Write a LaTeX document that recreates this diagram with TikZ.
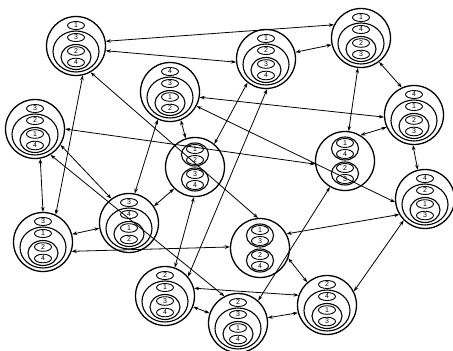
\documentclass[tikz,border=0pt]{standalone}
\usepackage{fontspec}
\newfontfamily\digitfont{Liberation Sans}
\usetikzlibrary{arrows.meta}
\tikzset{
  outer/.style={circle, draw, line width=1.3pt, minimum size=59pt, inner sep=0pt},
  inner/.style={line width=1.1pt},
  small/.style={line width=0.9pt},
  digit/.style={font=\digitfont\fontsize{7}{7}\selectfont, inner sep=0pt},
  dbl/.style={line width=0.8pt, {Stealth[length=5pt,width=3.6pt]}-{Stealth[length=5pt,width=3.6pt]}},
  pics/typeA/.style n args={4}{code={
    \draw[small] (0,-20.5) ellipse [x radius=8.5pt, y radius=4pt];
    \node[digit] at (0,-20.5) {#1};
    \draw[inner] (0,5.5) ellipse [x radius=23pt, y radius=20.5pt];
    \draw[small] (0,-8.5) ellipse [x radius=8.5pt, y radius=4pt];
    \node[digit] at (0,-8.5) {#2};
    \draw[inner] (0,11) ellipse [x radius=15pt, y radius=12.5pt];
    \draw[small] (0,5) ellipse [x radius=8.5pt, y radius=4.3pt];
    \node[digit] at (0,5) {#3};
    \draw[small] (0,16.5) ellipse [x radius=8.5pt, y radius=4.3pt];
    \node[digit] at (0,16.5) {#4};
  }},
  pics/typeB/.style n args={4}{code={
    \draw[inner] (0,-12.5) ellipse [x radius=13.5pt, y radius=11.5pt];
    \draw[inner] (0,12.5) ellipse [x radius=13.5pt, y radius=11.5pt];
    \draw[small] (0,-18) ellipse [x radius=8.5pt, y radius=4.5pt];
    \node[digit] at (0,-18) {#1};
    \draw[small] (0,-7) ellipse [x radius=8.5pt, y radius=4.5pt];
    \node[digit] at (0,-7) {#2};
    \draw[small] (0,7) ellipse [x radius=8.5pt, y radius=4.5pt];
    \node[digit] at (0,7) {#3};
    \draw[small] (0,18) ellipse [x radius=8.5pt, y radius=4.5pt];
    \node[digit] at (0,18) {#4};
  }}
}
\begin{document}
\begin{tikzpicture}[x=1pt,y=-1pt]
\useasboundingbox (0,0) rectangle (453,351);
% nodes
\node[outer] (N1) at (76,46) {};
\node[outer] (N2) at (266,59) {};
\node[outer] (N3) at (170,92) {};
\node[outer] (N4) at (361,38) {};
\node[outer] (N5) at (414,115) {};
\node[outer] (N6) at (35,129) {};
\node[outer] (N7) at (195,167) {};
\node[outer] (N8) at (345,161) {};
\node[outer] (N9) at (425,199) {};
\node[outer] (N10) at (43,242) {};
\node[outer] (N11) at (129,223) {};
\node[outer] (N12) at (260,248) {};
\node[outer] (N13) at (165,296) {};
\node[outer] (N14) at (238,323) {};
\node[outer] (N15) at (327,305) {};
% contents
\pic at (N1) {typeA={1}{3}{2}{4}};
\pic at (N2) {typeA={1}{2}{3}{4}};
\pic at (N3) {typeA={4}{3}{1}{2}};
\pic at (N4) {typeA={1}{4}{2}{3}};
\pic at (N5) {typeA={4}{1}{2}{3}};
\pic at (N6) {typeA={3}{2}{1}{4}};
\pic at (N7) {typeB={1}{2}{3}{4}};
\pic at (N8) {typeB={1}{4}{2}{3}};
\pic at (N9) {typeA={4}{2}{1}{3}};
\pic at (N10) {typeA={3}{1}{2}{4}};
\pic at (N11) {typeA={3}{4}{1}{2}};
\pic at (N12) {typeB={1}{3}{2}{4}};
\pic at (N13) {typeA={2}{1}{3}{4}};
\pic at (N14) {typeA={2}{3}{1}{4}};
\pic at (N15) {typeA={2}{4}{1}{3}};
% edges
\draw[dbl] (N1.9) -- (N4.154);
\draw[dbl] (N1.-9) -- (N2.186);
\draw[dbl] (N2.13) -- (N4.193);
\draw[dbl] (N4.-53) -- (N5.114);
\draw[dbl] (N4.-96) -- (N8.83);
\draw[dbl] (N3.-10) -- (N5.184);
\draw[dbl] (N3.-28) -- (N9.186);
\draw[dbl] (N5.204) -- (N8.59);
\draw[dbl] (N5.-92) -- (N9.104);
\draw[dbl] (N6.0) -- (N8.186);
\draw[dbl] (N6.-80) -- (N10.90);
\draw[dbl] (N6.-32) -- (N11.126);
\draw[dbl] (N6.-59) -- (N14.117);
\draw[dbl] (N1.-77) -- (N10.65);
\draw[dbl] (N1.-61) -- (N12.94);
\draw[dbl] (N3.-69) -- (N7.108);
\draw[dbl] (N3.-114) -- (N11.79);
\draw[dbl] (N2.-128) -- (N7.50);
\draw[dbl] (N2.-88) -- (N13.40);
\draw[dbl] (N7.-134) -- (N11.34);
\draw[dbl] (N7.-92) -- (N13.71);
\draw[dbl] (N10.15) -- (N11.190);
\draw[dbl] (N10.-18) -- (N12.178);
\draw[dbl] (N12.28) -- (N9.211);
\draw[dbl] (N8.-120) -- (N14.48);
\draw[dbl] (N12.-20) -- (N15.131);
\draw[dbl] (N15.27) -- (N9.-135);
\draw[dbl] (N13.15) -- (N15.161);
\draw[dbl] (N14.10) -- (N15.195);
\draw[dbl] (N13.-21) -- (N14.161);
\end{tikzpicture}
\end{document}
